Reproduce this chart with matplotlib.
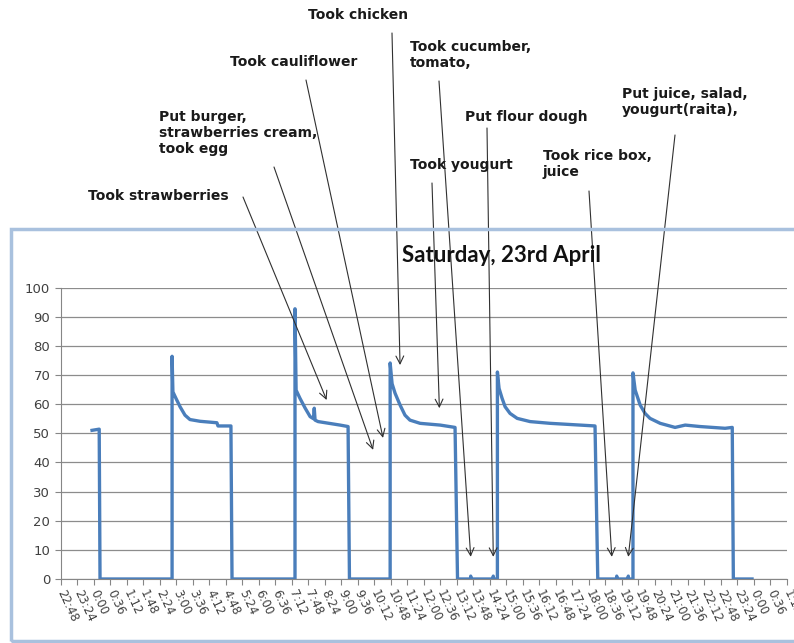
import matplotlib.pyplot as plt
from matplotlib.patches import Rectangle

plt.rcParams['font.family'] = 'DejaVu Sans'

# time of day in hours (negative = previous evening) and sensor reading
hours = [-0.06, 0.20, 0.23,
         2.85, 2.85, 2.88, 2.99, 3.14, 3.32, 3.50, 3.87, 4.48, 4.52, 4.99, 5.03,
         7.32, 7.32, 7.36, 7.50, 7.69, 7.87, 7.99, 8.02, 8.05, 8.16, 8.96, 9.25, 9.30,
         10.78, 10.78, 10.85, 10.96, 11.14, 11.32, 11.50, 11.87, 12.60, 13.14, 13.23,
         13.70, 13.71, 13.72, 14.52, 14.53, 14.54,
         14.68, 14.68, 14.74, 14.85, 14.96, 15.14, 15.40, 15.87, 16.60, 17.69, 18.23, 18.33,
         19.01, 19.02, 19.03, 19.43, 19.44, 19.45,
         19.61, 19.61, 19.69, 19.87, 20.05, 20.23, 20.60, 21.14, 21.51, 22.05, 22.96, 23.22, 23.26,
         23.94]
reading = [51.0, 51.4, 0,
           0, 76.4, 64.2, 62.0, 59.1, 56.2, 54.7, 54.1, 53.6, 52.5, 52.5, 0,
           0, 92.7, 64.8, 62.0, 58.6, 55.7, 55.0, 58.6, 54.5, 54.0, 52.8, 52.3, 0,
           0, 74.1, 67.0, 63.7, 59.7, 56.2, 54.5, 53.4, 52.8, 52.0, 0,
           0, 1.0, 0, 0, 1.0, 0,
           0, 71.0, 65.4, 62.0, 59.1, 56.8, 55.1, 54.0, 53.4, 52.8, 52.5, 0,
           0, 1.0, 0, 0, 1.0, 0,
           0, 70.7, 64.8, 59.7, 56.8, 55.1, 53.4, 52.0, 52.8, 52.3, 51.7, 52.0, 0,
           0]

tick_labels = ['22:48', '23:24', '0:00', '0:36', '1:12', '1:48', '2:24', '3:00', '3:36',
               '4:12', '4:48', '5:24', '6:00', '6:36', '7:12', '7:48', '8:24', '9:00',
               '9:36', '10:12', '10:48', '11:24', '12:00', '12:36', '13:12', '13:48',
               '14:24', '15:00', '15:36', '16:12', '16:48', '17:24', '18:00', '18:36',
               '19:12', '19:48', '20:24', '21:00', '21:36', '22:12', '22:48', '23:24',
               '0:00', '0:36', '1:12']

# events: label, text position (pixels from top-left), arrow target (hour, reading),
# arrow start (pixels from top-left)
events = [
    ('Took strawberries', (88, 189), (8.47, 61.4), (243, 197)),
    ('Put burger,\nstrawberries cream,\ntook egg', (159, 110), (10.16, 44.3), (274, 167)),
    ('Took cauliflower', (230, 55), (10.52, 48.4), (306, 80)),
    ('Took chicken', (308, 8), (11.14, 73.4), (392, 33)),
    ('Took cucumber,\ntomato,', (410, 40), (13.71, 7.6), (439, 81)),
    ('Put flour dough', (465, 110), (14.53, 7.6), (487, 128)),
    ('Took yougurt', (410, 158), (12.57, 58.6), (432, 183)),
    ('Took rice box,\njuice', (543, 149), (18.84, 7.6), (589, 191)),
    ('Put juice, salad,\nyougurt(raita),', (622, 87), (19.44, 7.6), (675, 135)),
]

W, H = 794, 643
fig = plt.figure(figsize=(W / 100, H / 100), dpi=100)

# light blue chart frame, open to the right edge
fig.patches.append(Rectangle((11 / W, 2 / H), 1.0, (641 - 229) / H,
                             transform=fig.transFigure, fill=False,
                             edgecolor='#a9c1de', linewidth=2.5))

ax = fig.add_axes([60.7 / W, 1 - 579 / H, (786.7 - 60.7) / W, (579 - 287.5) / H])
ax.plot(hours, reading, color='#4a7ebb', linewidth=2.4, solid_joinstyle='round')

ticks = [-1.2 + 0.6 * i for i in range(len(tick_labels))]
ax.set_xlim(ticks[0], ticks[-1])
ax.set_ylim(0, 100)
ax.set_xticks(ticks)
ax.set_xticklabels(tick_labels, rotation=-65, ha='left', va='center',
                   rotation_mode='anchor', fontsize=8.5, color='#404040')
ax.set_yticks(range(0, 101, 10))
ax.tick_params(axis='y', labelsize=9.5, colors='#404040', length=4, color='#868686')
ax.tick_params(axis='x', length=4, color='#868686', pad=4)
ax.yaxis.grid(True, color='#8c8c8c', linewidth=0.9)
ax.set_axisbelow(True)
for side in ['top', 'right']:
    ax.spines[side].set_visible(False)
for side in ['left', 'bottom']:
    ax.spines[side].set_color('#868686')

fig.text(501 / W, 1 - 256 / H, 'Saturday, 23rd April', ha='center', va='center',
         fontsize=16, fontweight='bold', family='Lato', color='#111111')

for label, (tx, ty), target, (sx, sy) in events:
    fig.text(tx / W, 1 - ty / H, label, ha='left', va='top', fontsize=10,
             fontweight='bold', color='#1a1a1a', linespacing=1.2)
    ax.annotate('', xy=target, xycoords='data',
                xytext=(sx / W, 1 - sy / H), textcoords='figure fraction',
                arrowprops=dict(arrowstyle='->', color='#303030', lw=0.8,
                                shrinkA=0, shrinkB=0, mutation_scale=14),
                annotation_clip=False)

fig.savefig('out.png', dpi=100)
